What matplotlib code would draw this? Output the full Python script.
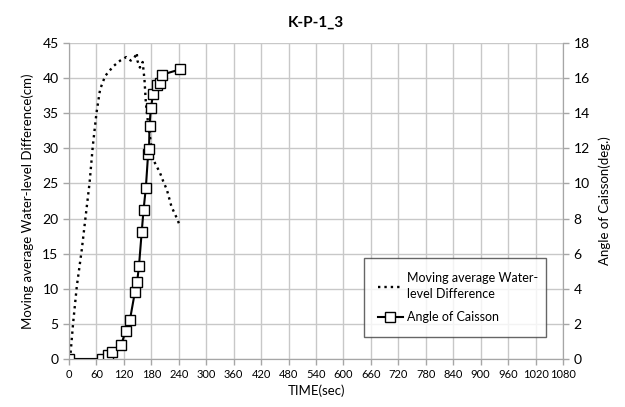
import matplotlib.pyplot as plt
import numpy as np

plt.rcParams['font.family'] = ['Lato', 'DejaVu Sans']

# moving average water-level difference (cm), left axis
wl_time = [0, 3, 9, 17, 28, 36, 45, 52, 60, 68, 79, 97, 112, 125, 135, 143, 148, 150, 155, 161,
           165, 168, 172, 177, 184, 192, 199, 206, 214, 224, 234, 243]
wl_diff = [0, 0.5, 5.1, 10.3, 15.6, 20.1, 25.1, 30.3, 35.0, 38.4, 40.3, 41.7, 42.5, 43.0, 42.5, 42.9, 43.6, 42.4,
           41.5, 42.3, 39.8, 36.5, 34.1, 31.7, 28.4, 27.4, 26.5, 25.3, 24.1, 21.7, 20.3, 18.9]

# angle of caisson (deg), right axis
ang_time = [0, 73, 85, 95, 114, 124, 133, 144, 149, 153, 159, 163, 168, 173, 175, 176, 179, 184,
            193, 199, 204, 243]
ang_deg = [0, 0, 0.2, 0.4, 0.8, 1.6, 2.2, 3.8, 4.4, 5.3, 7.25, 8.5, 9.75, 11.7, 11.95, 13.3, 14.3,
           15.1, 15.6, 15.7, 16.2, 16.5]

xticks = np.arange(0, 1081, 60)

fig = plt.figure(figsize=(6.25, 4.07), dpi=100)
ax = fig.add_axes([0.1104, 0.118, 0.7904, 0.7763])
ax2 = ax.twinx()

grid_c = '#c8c8c8'
ax.set_xlim(0, 1080)
ax.set_ylim(0, 45)
ax2.set_ylim(0, 18)
ax.set_xticks(xticks)
ax.set_yticks(np.arange(0, 46, 5))
ax2.set_yticks(np.arange(0, 19, 2))
ax.grid(True, color=grid_c, linewidth=1)
ax.set_axisbelow(True)

for a in (ax, ax2):
    for s in a.spines.values():
        s.set_color('#a6a6a6')
    a.spines['top'].set_visible(False)
ax.tick_params(axis='both', colors='#a6a6a6', labelcolor='black', length=4, width=1)
ax2.tick_params(axis='y', colors='#a6a6a6', labelcolor='black', length=4, width=1, labelsize=10)
ax.tick_params(axis='y', labelsize=10)
ax.tick_params(axis='x', labelsize=8)

l1, = ax.plot(wl_time, wl_diff, color='black', linewidth=1.7, linestyle=(0, (1, 1.7)),
              dash_capstyle='butt', label='Moving average Water-\nlevel Difference')
l2, = ax2.plot(ang_time, ang_deg, color='black', linewidth=1.5, marker='s', markersize=7,
               markerfacecolor='white', markeredgecolor='black', markeredgewidth=1,
               label='Angle of Caisson')

ax.set_xlabel('TIME(sec)', fontsize=9.5, labelpad=3)
ax.set_ylabel('Moving average Water-level Difference(cm)', fontsize=9.5, labelpad=6)
ax2.set_ylabel('Angle of Caisson(deg.)', fontsize=9.5, labelpad=6)
ax.set_title('K-P-1_3', fontsize=11, fontweight='bold', pad=12)

leg = ax2.legend(handles=[l1, l2], loc='lower left', bbox_to_anchor=(0.585, 0.05, 0.393, 0.27),
                 mode='expand', fontsize=9, frameon=True, fancybox=False, borderpad=1.1,
                 handlelength=2.0, handletextpad=0.3, labelspacing=0.9)
leg.get_frame().set_edgecolor('#404040')
leg.get_frame().set_linewidth(1)
leg.get_texts()[0].set_linespacing(1.4)

fig.savefig('out.png', dpi=100)
